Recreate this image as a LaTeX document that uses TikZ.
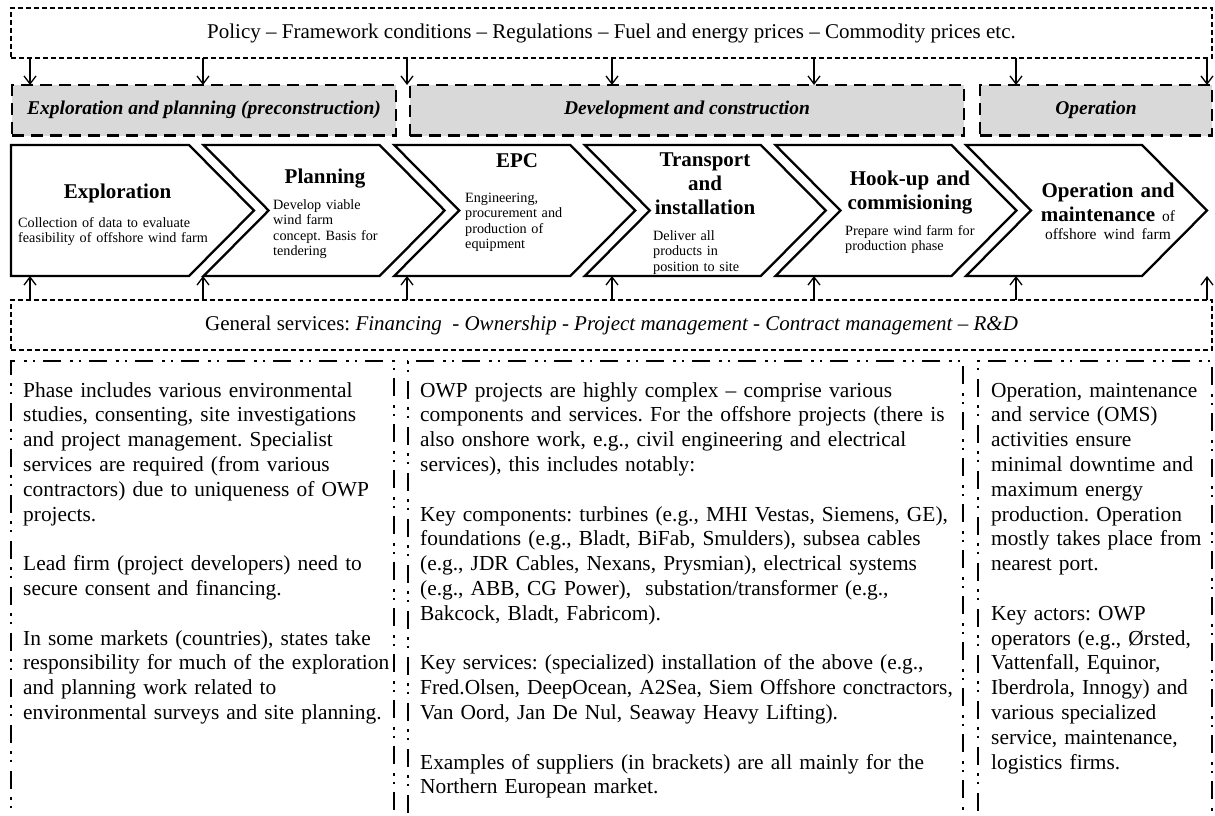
\documentclass[tikz,border=0pt]{standalone}
\usepackage{fontspec}
\setmainfont{Liberation Serif}
\frenchspacing
\usetikzlibrary{arrows.meta,positioning}
\definecolor{Ink}{HTML}{000000}
\definecolor{HeadFill}{HTML}{D9D9D9}
\tikzset{
  flow/.style={-{Straight Barb[length=8pt,width=12pt]}, draw=Ink, line width=1.3pt},
  contextbox/.style={draw=Ink, line width=1.3pt, dash pattern=on 5pt off 3pt, outer sep=0pt,
    minimum width=1201pt, minimum height=50pt, font=\fontsize{21}{24}\selectfont},
  phasehead/.style={draw=Ink, fill=HeadFill, line width=2.3pt, dash pattern=on 12pt off 7pt,
    outer sep=0pt, minimum height=50.5pt, font=\bfseries\itshape\fontsize{19.5}{22}\selectfont},
  stage/.style={minimum width=241pt, minimum height=131pt, inner sep=0pt, outer sep=0pt},
  chevron/.style={draw=Ink, fill=white, line width=2.3pt, line join=miter},
  stagetitle/.style={anchor=base, inner sep=0pt, text width=200pt, align=center,
    font=\bfseries\fontsize{21}{24}\selectfont},
  stagetext/.style={anchor=base west, inner sep=0pt, text width=220pt, align=left,
    font=\fontsize{14.2}{15.5}\selectfont},
  notebox/.style={draw=Ink, line width=2.3pt, outer sep=0pt, minimum height=480pt, anchor=north west,
    dash pattern=on 18pt off 8pt on 2.5pt off 6pt on 2.5pt off 9pt},
  notetext/.style={anchor=base west, inner sep=0pt, align=left,
    font=\fontsize{21.4}{24.8}\selectfont},
}

\begin{document}
\begin{tikzpicture}[x=1pt, y=-1pt]
  \useasboundingbox (0,0) rectangle (1215,816);
  \clip (0,0) rectangle (1215,816);

  % Framework conditions above, shared services below the chain.
  \node[contextbox] (policy) at (611.5,33)
    {Policy – Framework conditions – Regulations – Fuel and energy prices – Commodity prices etc.};
  \node[contextbox] (services) at (611.5,325)
    {General services: \textit{Financing\ \ - Ownership - Project management - Contract management – R\&D}};

  % Phase headings.
  \node[phasehead, minimum width=384pt, anchor=north west] (explHead) at (12,85)
    {Exploration and planning (preconstruction)};
  \node[phasehead, minimum width=554pt, anchor=north west] (devHead) at (410,85)
    {Development and construction};
  \node[phasehead, minimum width=232pt, anchor=north west] (opHead) at (980,85)
    {Operation};

  % Value chain stages as chevrons.
  \node[stage, minimum width=243pt] (explore) at (132.5,210.5) {};
  \node[stage] (plan) at (324.1,210.5) {};
  \node[stage] (epc) at (514.7,210.5) {};
  \node[stage] (transport) at (705.3,210.5) {};
  \node[stage] (hookup) at (895.9,210.5) {};
  \node[stage] (operate) at (1086.5,210.5) {};

  \draw[chevron] (explore.north west) -- ([xshift=-65pt]explore.north east) -- (explore.east)
    -- ([xshift=-65pt]explore.south east) -- (explore.south west) -- cycle;
  \foreach \stg in {plan,epc,transport,hookup,operate}
    \draw[chevron] (\stg.north west) -- ([xshift=-65pt]\stg.north east) -- (\stg.east)
      -- ([xshift=-65pt]\stg.south east) -- (\stg.south west) -- ([xshift=65pt]\stg.west) -- cycle;

  \node[stagetitle] (exploreTitle) at (117.5,198) {Exploration};
  \node[stagetext] (exploreText) at (18,227)
    {Collection of data to evaluate\\feasibility of offshore wind farm};
  \node[stagetitle] (planTitle) at (325,183) {Planning};
  \node[stagetext] (planText) at (273,209)
    {Develop viable\\wind farm\\concept. Basis for\\tendering};
  \node[stagetitle] (epcTitle) at (517,167) {EPC};
  \node[stagetext] (epcText) at (465,202)
    {Engineering,\\procurement and\\production of\\equipment};
  \node[stagetitle] (transportTitle) at (705,166) {Transport\\and\\installation};
  \node[stagetext] (transportText) at (653,240)
    {Deliver all\\products in\\position to site};
  \node[stagetitle] (hookupTitle) at (910,185) {Hook-up and\\commisioning};
  \node[stagetext] (hookupText) at (845,235)
    {Prepare wind farm for\\production phase};
  \node[stagetitle] (operateTitle) at (1108,197)
    {Operation and\\maintenance {\mdseries\fontsize{15.5}{18}\selectfont of}\\[-6pt]%
     {\mdseries\fontsize{15.5}{18}\selectfont offshore wind farm}};

  % Influence arrows.
  \foreach \ax/\hd in {30/explHead,203/explHead,407/devHead,612/devHead,814/devHead,1016/opHead,1207/opHead}
    \draw[flow] (policy.south -| \ax,0) -- (\hd.north -| \ax,0);
  \foreach \ax/\stg in {30/explore,203/plan,407/epc,612/transport,814/hookup,1016/operate,1207/operate}
    \draw[flow] (services.north -| \ax,0) -- (\stg.south -| \ax,0);

  % Notes per phase.
  \node[notebox, minimum width=383pt] (noteExpl) at (11,361) {};
  \node[notebox, minimum width=555pt] (noteBuild) at (408,361) {};
  \node[notebox, minimum width=234pt] (noteOperate) at (978,361) {};

  \node[notetext, text width=400pt] (noteExplText) at ([xshift=12pt,yshift=-36pt]noteExpl.north west)
    {Phase includes various environmental\\
     studies, consenting, site investigations\\
     and project management. Specialist\\
     services are required (from various\\
     contractors) due to uniqueness of OWP\\
     projects.\\[24.8pt]
     Lead firm (project developers) need to\\
     secure consent and financing.\\[24.8pt]
     In some markets (countries), states take\\
     responsibility for much of the exploration\\
     and planning work related to\\
     environmental surveys and site planning.};
  \node[notetext, text width=580pt] (noteBuildText) at ([xshift=12pt,yshift=-36pt]noteBuild.north west)
    {OWP projects are highly complex – comprise various\\
     components and services. For the offshore projects (there is\\
     also onshore work, e.g., civil engineering and electrical\\
     services), this includes notably:\\[24.8pt]
     Key components: turbines (e.g., MHI Vestas, Siemens, GE),\\
     foundations (e.g., Bladt, BiFab, Smulders), subsea cables\\
     (e.g., JDR Cables, Nexans, Prysmian), electrical systems\\
     (e.g., ABB, CG Power),\ \ substation/transformer (e.g.,\\
     Bakcock, Bladt, Fabricom).\\[24.8pt]
     Key services: (specialized) installation of the above (e.g.,\\
     Fred.Olsen, DeepOcean, A2Sea, Siem Offshore conctractors,\\
     Van Oord, Jan De Nul, Seaway Heavy Lifting).\\[24.8pt]
     Examples of suppliers (in brackets) are all mainly for the\\
     Northern European market.};
  \node[notetext, text width=260pt] (noteOperateText) at ([xshift=13pt,yshift=-36pt]noteOperate.north west)
    {Operation, maintenance\\
     and service (OMS)\\
     activities ensure\\
     minimal downtime and\\
     maximum energy\\
     production. Operation\\
     mostly takes place from\\
     nearest port.\\[24.8pt]
     Key actors: OWP\\
     operators (e.g., Ørsted,\\
     Vattenfall, Equinor,\\
     Iberdrola, Innogy) and\\
     various specialized\\
     service, maintenance,\\
     logistics firms.};
\end{tikzpicture}
\end{document}
